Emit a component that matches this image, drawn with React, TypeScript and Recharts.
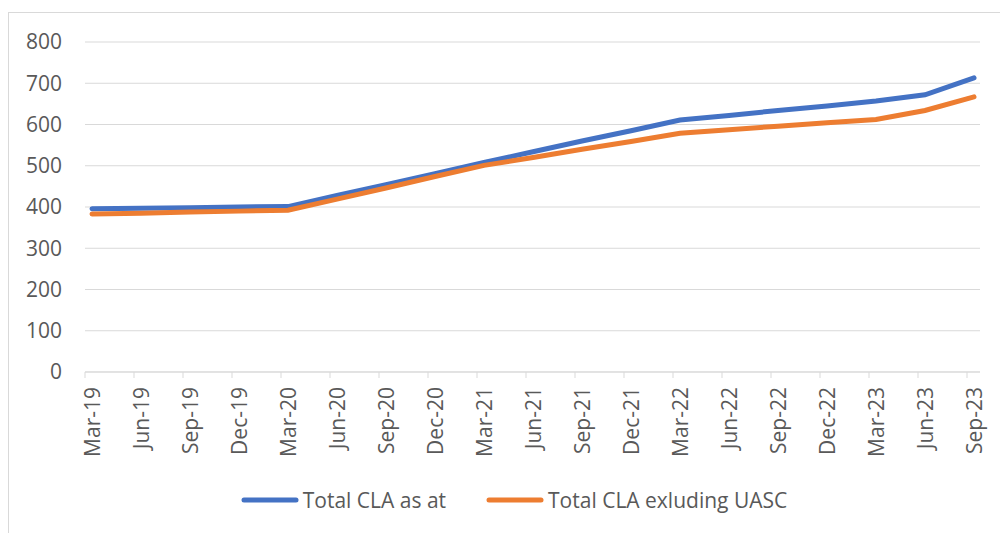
import { LineChart, Line, XAxis, YAxis, CartesianGrid, Legend } from 'recharts'

const QUARTERS = [
  'Mar-19', 'Jun-19', 'Sep-19', 'Dec-19',
  'Mar-20', 'Jun-20', 'Sep-20', 'Dec-20',
  'Mar-21', 'Jun-21', 'Sep-21', 'Dec-21',
  'Mar-22', 'Jun-22', 'Sep-22', 'Dec-22',
  'Mar-23', 'Jun-23', 'Sep-23',
]

const TOTAL_CLA = [
  396, 397, 398, 400,
  401, 428, 454, 481,
  508, 534, 560, 585,
  611, 622, 634, 645,
  657, 672, 713,
]

const TOTAL_EXCL_UASC = [
  383, 385, 388, 390,
  392, 419, 446, 474,
  501, 520, 540, 559,
  579, 587, 596, 604,
  612, 634, 667,
]

const Y_TICKS = [0, 100, 200, 300, 400, 500, 600, 700, 800]

const SERIES = [
  { key: 'total', name: 'Total CLA as at', color: '#4472C4' },
  { key: 'excl', name: 'Total CLA exluding UASC', color: '#ED7D31' },
]

const data = QUARTERS.map((q, i) => ({ q, total: TOTAL_CLA[i], excl: TOTAL_EXCL_UASC[i] }))

const FONT = '"Open Sans", "Liberation Sans", sans-serif'
const TEXT = '#595959'
const GRID = '#d9d9d9'

function QuarterTick(props: any) {
  const { x, y, payload } = props
  return (
    <g>
      <line x1={x - 7} y1={y} x2={x - 7} y2={y + 6} stroke={GRID} />
      <text
        x={x}
        y={y + 15}
        transform={`rotate(-90, ${x}, ${y + 15})`}
        textAnchor="end"
        dy="0.36em"
        fill={TEXT}
        fontSize={21}
        fontFamily={FONT}
      >
        {payload.value}
      </text>
    </g>
  )
}

function LegendBox() {
  return (
    <div style={{ display: 'flex', justifyContent: 'center', gap: 40, fontFamily: FONT, fontSize: 21, color: TEXT }}>
      {SERIES.map((s) => (
        <div key={s.key} style={{ display: 'flex', alignItems: 'center' }}>
          <svg width={62} height={10}>
            <line x1={3} y1={5} x2={55} y2={5} stroke={s.color} strokeWidth={5} strokeLinecap="round" />
          </svg>
          <span>{s.name}</span>
        </div>
      ))}
    </div>
  )
}

export default function App() {
  return (
    <div style={{ position: 'fixed', left: 0, top: 0, width: 1000, height: 533, overflow: 'hidden', background: '#fff' }}>
      <div
        style={{
          position: 'absolute',
          left: 8,
          top: 12,
          width: 1010,
          height: 540,
          border: `1px solid ${GRID}`,
        }}
      />
      <div style={{ position: 'absolute', left: 0, top: 0 }}>
        <LineChart width={1000} height={533} data={data} margin={{ top: 42, right: 20, bottom: 33, left: 25 }}>
          <CartesianGrid vertical={false} stroke={GRID} strokeWidth={1} />
          <XAxis
            dataKey="q"
            interval={0}
            padding={{ left: 7, right: 6 }}
            axisLine={{ stroke: GRID }}
            tickLine={false}
            tickSize={0}
            tickMargin={0}
            height={100}
            tick={<QuarterTick />}
          />
          <YAxis
            domain={[0, 800]}
            ticks={Y_TICKS}
            width={60}
            axisLine={false}
            tickLine={false}
            tickSize={0}
            tickMargin={23}
            tick={{ fill: TEXT, fontSize: 21, fontFamily: FONT }}
          />
          <Legend
            content={<LegendBox />}
            wrapperStyle={{ position: 'absolute', top: 486, left: 14, width: 1000 }}
          />
          {SERIES.map((s) => (
            <Line
              key={s.key}
              type="linear"
              dataKey={s.key}
              name={s.name}
              stroke={s.color}
              strokeWidth={5}
              strokeLinecap="round"
              dot={false}
              activeDot={false}
              isAnimationActive={false}
            />
          ))}
        </LineChart>
      </div>
    </div>
  )
}
